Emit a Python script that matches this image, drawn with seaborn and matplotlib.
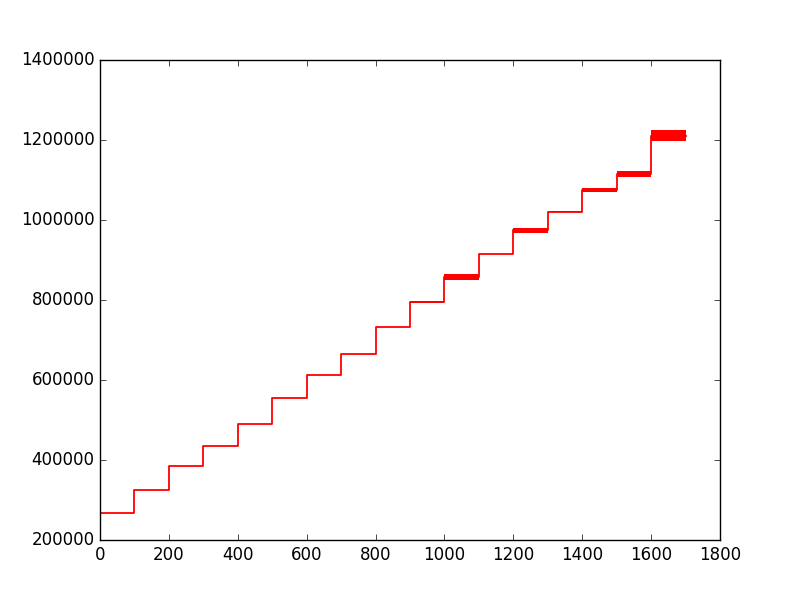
import matplotlib
matplotlib.use("Agg")
import matplotlib.pyplot as plt
import seaborn as sns
import numpy as np

# step start positions and levels
step_starts = [0, 100, 200, 300, 400, 500, 600, 700, 800, 900, 1000, 1100, 1200, 1300, 1400, 1500, 1600]
step_end = 1700
levels = [268000, 324000, 384000, 436000, 489000, 555000, 613000, 666000, 732000,
          795000, 857000, 915000, 974000, 1021000, 1075000, 1115000, 1211000]
# extent of the oscillation within each step
band_low = [268000, 324000, 384000, 436000, 489000, 555000, 613000, 666000, 732000,
            793000, 849000, 915000, 968000, 1019000, 1071000, 1107000, 1197000]
band_high = [268000, 324000, 384000, 436000, 489000, 555000, 613000, 666000, 732000,
             798000, 866000, 915000, 980000, 1023000, 1079000, 1123000, 1226000]

plt.style.use("classic")
fig, ax = plt.subplots(figsize=(8, 6), dpi=100)
fig.patch.set_facecolor("white")

xs = step_starts + [step_end]
ys = levels + [levels[-1]]
sns.lineplot(x=xs, y=ys, ax=ax, color="red", linewidth=1.3, drawstyle="steps-post",
             estimator=None, sort=False)
ax.fill_between(xs, band_low + [band_low[-1]], band_high + [band_high[-1]],
                step="post", color="red", linewidth=0)

ax.set_xlim(0, 1800)
ax.set_ylim(200000, 1400000)
ax.set_xticks(np.arange(0, 1801, 200))
ax.set_yticks(np.arange(200000, 1400001, 200000))
ax.ticklabel_format(style="plain", useOffset=False)

fig.savefig("out.png", dpi=100, facecolor="white")
